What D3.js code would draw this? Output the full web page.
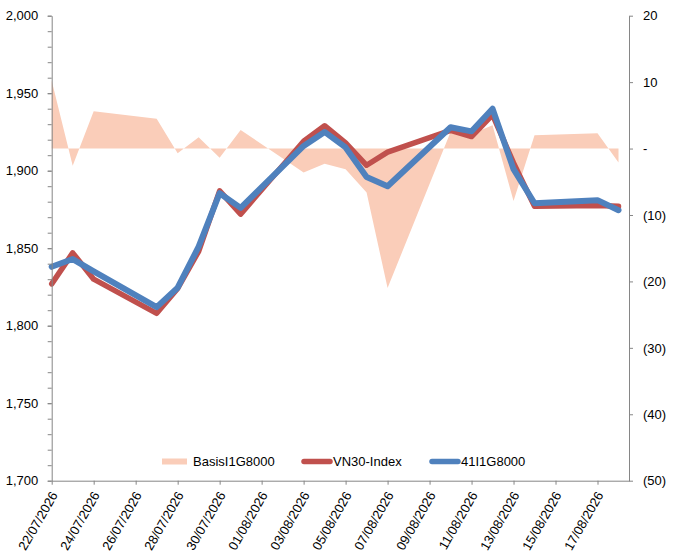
<!DOCTYPE html>
<html>
<head>
<meta charset="utf-8">
<script src="https://cdn.jsdelivr.net/npm/d3@7"></script>
<style>
  body { margin: 0; background: #fff; }
  svg { font-family: "Liberation Sans", Arial, sans-serif; }
  .axis path, .axis line { stroke: #868686; }
  .axis text { fill: #000; font-size: 13px; }
</style>
</head>
<body>
<svg width="673" height="559"></svg>
<script>
// trading days
var dates = ['22/07/2026','23/07/2026','24/07/2026','27/07/2026','28/07/2026','29/07/2026',
  '30/07/2026','31/07/2026','03/08/2026','04/08/2026','05/08/2026','06/08/2026','07/08/2026',
  '10/08/2026','11/08/2026','12/08/2026','13/08/2026','14/08/2026','17/08/2026','18/08/2026'];

var vn30 = [1827, 1847, 1830, 1808, 1824, 1848, 1887, 1872, 1919, 1929,
  1918, 1903.5, 1912, 1926, 1922, 1936, 1905, 1877, 1877.5, 1877];
var fut = [1838, 1843, 1835, 1812, 1824.5, 1851, 1885.5, 1876, 1916, 1925,
  1915, 1896, 1890, 1928, 1925.4, 1940, 1901, 1879, 1881, 1874.5];
var basis = [10.2, -2.6, 5.6, 4.5, -0.7, 1.7, -1.4, 2.8, -3.6, -2.3,
  -3.1, -6.6, -21, 2.5, 2.2, 3.5, -7.9, 2.0, 2.3, -2.1];

var seriesNames = ['BasisI1G8000', 'VN30-Index', '41I1G8000'];
var seriesColors = ['#FACDB9', '#C0504D', '#4F81BD'];

var xTickLabels = ['22/07/2026','24/07/2026','26/07/2026','28/07/2026','30/07/2026',
  '01/08/2026','03/08/2026','05/08/2026','07/08/2026','09/08/2026','11/08/2026',
  '13/08/2026','15/08/2026','17/08/2026'];
var leftTicks = [1700, 1750, 1800, 1850, 1900, 1950, 2000];
var rightTicks = [-50, -40, -30, -20, -10, 0, 10, 20];

var parse = d3.timeParse('%d/%m/%Y');
var days = dates.map(parse);

var svg = d3.select('svg'),
  plotL = 51.7, plotR = 629, plotT = 15.7, plotB = 480.7;

var x = d3.scaleTime()
  .domain([days[0], d3.timeHour.offset(days[days.length - 1], 12)])
  .range([plotL, plotR]);
var yL = d3.scaleLinear().domain([1700, 2000]).range([plotB, plotT]);
var yR = d3.scaleLinear().domain([-50, 20]).range([plotB, plotT]);

// basis area
var area = d3.area()
  .x(function(d, i) { return x(days[i]); })
  .y0(yR(0))
  .y1(function(d) { return yR(d); });

svg.append('path')
  .datum(basis)
  .attr('d', area)
  .attr('fill', seriesColors[0]);

var line = d3.line()
  .x(function(d, i) { return x(days[i]); })
  .y(function(d) { return yL(d); });

svg.append('path')
  .datum(vn30)
  .attr('d', line)
  .attr('fill', 'none')
  .attr('stroke', seriesColors[1])
  .attr('stroke-width', 5.5)
  .attr('stroke-linejoin', 'round')
  .attr('stroke-linecap', 'round');

svg.append('path')
  .datum(fut)
  .attr('d', line)
  .attr('fill', 'none')
  .attr('stroke', seriesColors[2])
  .attr('stroke-width', 6)
  .attr('stroke-linejoin', 'round')
  .attr('stroke-linecap', 'round');

// left axis: minor ticks every 10
svg.append('g')
  .attr('class', 'axis')
  .attr('transform', 'translate(' + plotL + ',0)')
  .call(d3.axisLeft(yL).tickValues(d3.range(1700, 2001, 10)).tickSize(4).tickFormat(''))
  .select('.domain').remove();
svg.append('g')
  .attr('class', 'axis')
  .attr('transform', 'translate(' + plotL + ',0)')
  .call(d3.axisLeft(yL).tickValues(leftTicks).tickSize(4).tickSizeOuter(0)
    .tickPadding(9.5).tickFormat(d3.format(',')));

// right axis
svg.append('g')
  .attr('class', 'axis')
  .attr('transform', 'translate(' + plotR + ',0)')
  .call(d3.axisRight(yR).tickValues(rightTicks).tickSize(4).tickSizeOuter(0)
    .tickPadding(10)
    .tickFormat(function(d) { return d === 0 ? '-' : d < 0 ? '(' + (-d) + ')' : d; }));

// bottom axis
var xAxis = svg.append('g')
  .attr('class', 'axis')
  .attr('transform', 'translate(0,' + plotB + ')')
  .call(d3.axisBottom(x).tickValues(xTickLabels.map(parse)).tickSize(4).tickSizeOuter(0)
    .tickFormat(d3.timeFormat('%d/%m/%Y')));
xAxis.selectAll('text')
  .attr('text-anchor', 'end')
  .attr('y', 0)
  .attr('dy', '0.35em')
  .attr('transform', 'translate(2,12) rotate(-60)');

// legend
var legendX = [162, 302, 430];
var legend = svg.append('g').attr('transform', 'translate(0,461.5)');
var item = legend.selectAll('g')
  .data(seriesNames)
  .enter().append('g')
  .attr('transform', function(d, i) { return 'translate(' + legendX[i] + ',0)'; });

item.each(function(d, i) {
  var g = d3.select(this);
  if (i === 0) {
    g.append('rect')
      .attr('x', 0).attr('y', -3).attr('width', 25).attr('height', 6)
      .attr('fill', seriesColors[i]);
  } else {
    g.append('line')
      .attr('x1', 2).attr('x2', 28)
      .attr('stroke', seriesColors[i])
      .attr('stroke-width', 5.5)
      .attr('stroke-linecap', 'round');
  }
  g.append('text')
    .attr('x', 31)
    .attr('dy', '0.35em')
    .attr('font-size', 13)
    .attr('fill', '#000')
    .text(d);
});
</script>
</body>
</html>
